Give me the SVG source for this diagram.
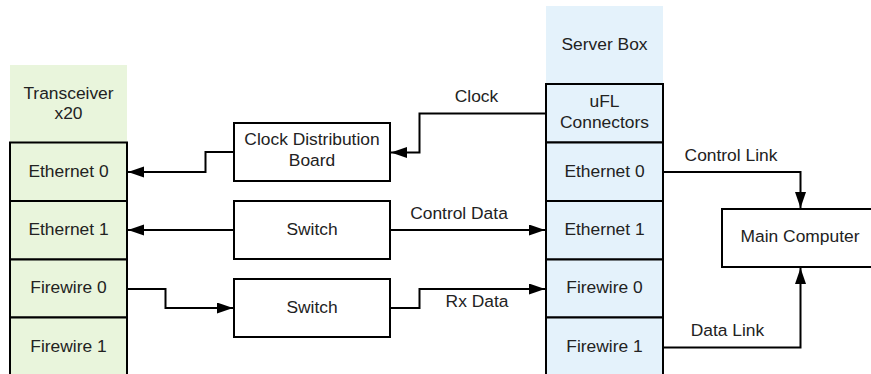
<svg xmlns="http://www.w3.org/2000/svg" width="871" height="374" viewBox="0 0 871 374">
<style>
text{font-family:"Liberation Sans",Arial,sans-serif;font-size:17.4px;fill:#222;text-anchor:middle}
.lbl{text-anchor:middle}
.g{fill:#e9f5dc;stroke:#000;stroke-width:2}
.b{fill:#e4f2fb;stroke:#000;stroke-width:2}
.hg{fill:#e9f5dc}
.hb{fill:#e4f2fb}
.box{fill:#fff;stroke:#000;stroke-width:2}
.c{fill:none;stroke:#000;stroke-width:2}
</style>
<defs>
<marker id="ah" markerUnits="userSpaceOnUse" markerWidth="17" markerHeight="12" refX="16" refY="5.5" orient="auto">
<path d="M0,0 L16,5.5 L0,11 z" fill="#000"/>
</marker>
</defs>
<rect width="871" height="374" fill="#fff"/>
<g id="transceiver">
<rect class="hg" x="10" y="65" width="117" height="77"/>
<text x="68.5" y="99">Transceiver</text>
<text x="68.5" y="118.5">x20</text>
</g>
<g id="t-eth0"><rect class="g" x="10" y="142.5" width="117" height="58.5"/><text x="68.5" y="176.5">Ethernet 0</text></g>
<g id="t-eth1"><rect class="g" x="10" y="201" width="117" height="58.5"/><text x="68.5" y="234.5">Ethernet 1</text></g>
<g id="t-fw0"><rect class="g" x="10" y="259.5" width="117" height="58"/><text x="68.5" y="293">Firewire 0</text></g>
<g id="t-fw1"><rect class="g" x="10" y="317.5" width="117" height="60"/><text x="68.5" y="351.5">Firewire 1</text></g>

<g id="server">
<rect class="hb" x="546" y="6" width="117" height="78"/>
<text x="604.5" y="49.5">Server Box</text>
</g>
<g id="s-ufl"><rect class="b" x="546" y="84" width="117" height="58.5"/><text x="604.5" y="107">uFL</text><text x="604.5" y="127.5">Connectors</text></g>
<g id="s-eth0"><rect class="b" x="546" y="142.5" width="117" height="58.5"/><text x="604.5" y="176.5">Ethernet 0</text></g>
<g id="s-eth1"><rect class="b" x="546" y="201" width="117" height="58.5"/><text x="604.5" y="234.5">Ethernet 1</text></g>
<g id="s-fw0"><rect class="b" x="546" y="259.5" width="117" height="58"/><text x="604.5" y="293">Firewire 0</text></g>
<g id="s-fw1"><rect class="b" x="546" y="317.5" width="117" height="60"/><text x="604.5" y="351.5">Firewire 1</text></g>

<g id="clock-board"><rect class="box" x="234" y="123" width="156" height="58"/><text x="312" y="145">Clock Distribution</text><text x="312" y="165.5">Board</text></g>
<g id="switch1"><rect class="box" x="234" y="201" width="156" height="58"/><text x="312" y="234.5">Switch</text></g>
<g id="switch2"><rect class="box" x="234" y="279" width="156" height="58"/><text x="312" y="312.5">Switch</text></g>
<g id="main-computer"><rect class="box" x="722" y="209" width="156" height="58"/><text x="800" y="242">Main Computer</text></g>

<g id="connectors">
<polyline class="c" points="546,113.5 419.5,113.5 419.5,152.5 391,152.5" marker-end="url(#ah)"/>
<polyline class="c" points="234,152 205.5,152 205.5,172 128,172" marker-end="url(#ah)"/>
<polyline class="c" points="234,230 128,230" marker-end="url(#ah)"/>
<polyline class="c" points="390,230 545,230" marker-end="url(#ah)"/>
<polyline class="c" points="127,289 165.5,289 165.5,308 233,308" marker-end="url(#ah)"/>
<polyline class="c" points="390,308 419.5,308 419.5,289 545,289" marker-end="url(#ah)"/>
<polyline class="c" points="663,172 800.5,172 800.5,208" marker-end="url(#ah)"/>
<polyline class="c" points="663,347.5 800.5,347.5 800.5,268" marker-end="url(#ah)"/>
<text class="lbl" x="476.5" y="102">Clock</text>
<text class="lbl" x="459" y="219">Control Data</text>
<text class="lbl" x="477" y="306.5">Rx Data</text>
<text class="lbl" x="731" y="161">Control Link</text>
<text class="lbl" x="727.5" y="336">Data Link</text>
</g>
</svg>
